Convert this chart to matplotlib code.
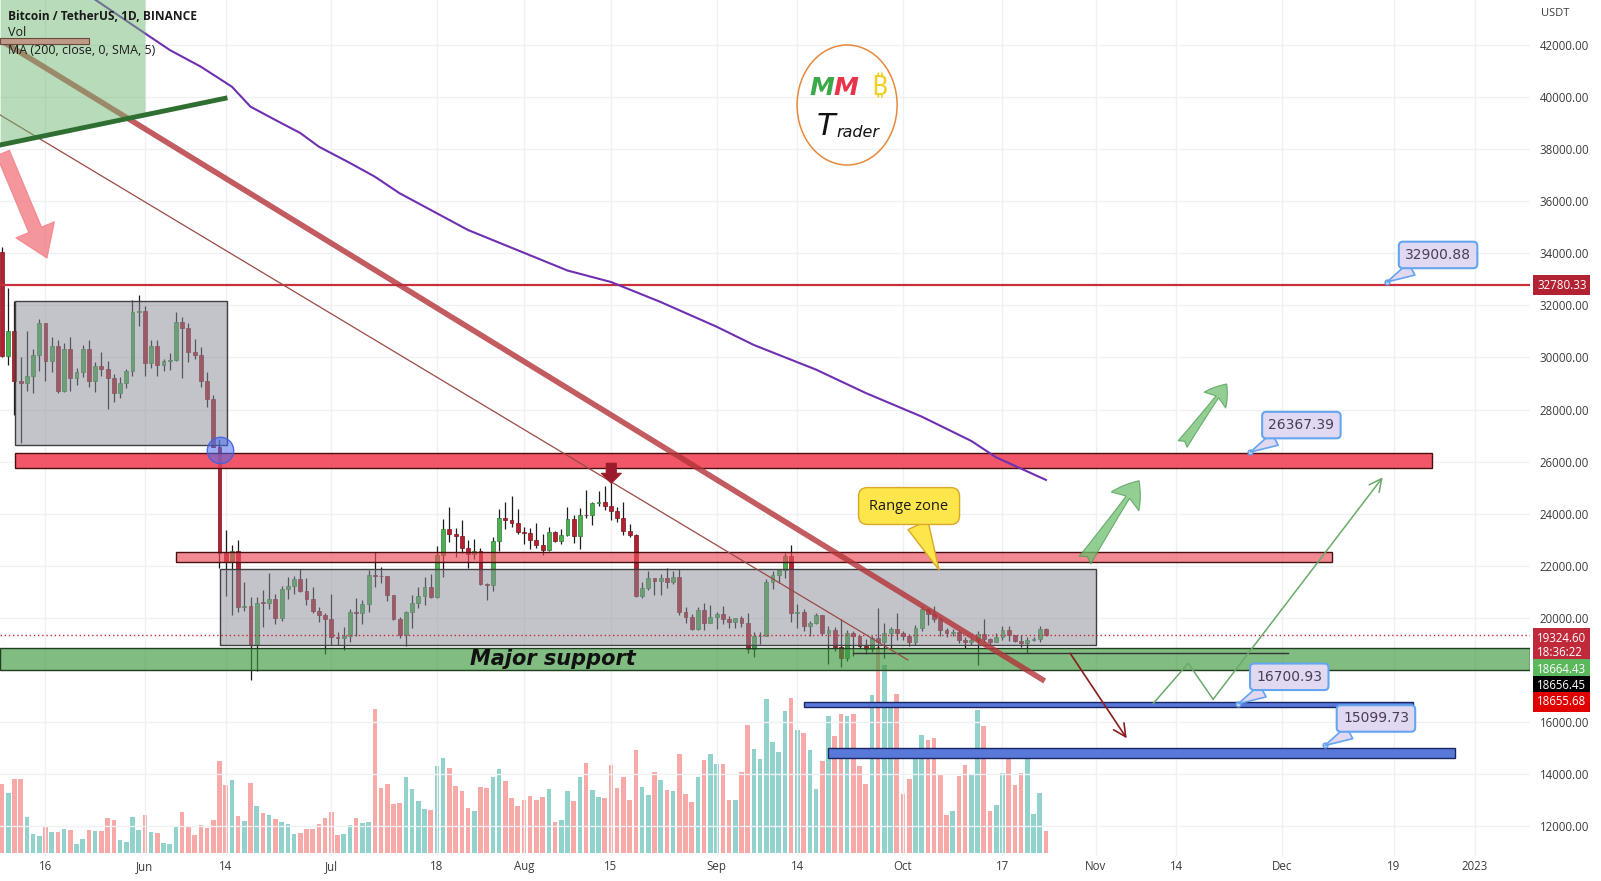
import numpy as np
import matplotlib
matplotlib.use('Agg')
import matplotlib.pyplot as plt
from matplotlib.patches import Rectangle, Ellipse

plt.rcParams['font.family'] = ['Open Sans', 'DejaVu Sans']

# BTC/USDT daily candles, day 0 = 9 May 2022 ... day 168 = 24 Oct 2022
opens = [34060, 30074, 31017, 29103, 29031, 29283, 30101, 31306, 29863, 30425,
         28716, 30320, 29199, 29432, 30324, 29098, 29655, 29543, 29202, 28630,
         29031, 29469, 31734, 31801, 29805, 30452, 29700, 29864, 29919, 31373,
         31125, 30205, 30110, 29092, 28424, 26575, 22487, 22136, 22583, 20401,
         20468, 18971, 20574, 20573, 20723, 19987, 21110, 21237, 21492, 21038,
         20742, 20281, 20123, 19942, 19280, 19243, 19297, 20231, 20190, 20548,
         21637, 21595, 21592, 20860, 19970, 19329, 20212, 20570, 20830, 21195,
         20798, 22432, 23396, 23223, 23152, 22684, 22451, 22579, 21310, 21254,
         22952, 23842, 23774, 23643, 23293, 23268, 22988, 22818, 22622, 23312,
         22954, 23175, 23810, 23149, 23954, 23934, 24403, 24441, 24305, 24094,
         23854, 23342, 23191, 20834, 21140, 21516, 21400, 21529, 21368, 21559,
         20241, 20037, 19555, 20285, 19811, 20050, 20131, 19952, 19832, 19986,
         19813, 18791, 19289, 19320, 21361, 21648, 21826, 22395, 20174, 20226,
         19701, 19803, 20113, 19416, 19537, 18875, 18461, 19401, 19289, 18920,
         18807, 19227, 19079, 19413, 19591, 19423, 19310, 19057, 19630, 20337,
         20158, 19960, 19530, 19417, 19446, 19141, 19060, 19155, 19375, 19176,
         19069, 19262, 19549, 19328, 19124, 19041, 19164, 19204, 19570]
highs = [34245, 32658, 32162, 30033, 30998, 30343, 31460, 31308, 30788, 30666,
         30545, 30777, 29600, 30487, 30670, 29830, 30223, 29850, 29380, 29253,
         29550, 32222, 32399, 31982, 30689, 30675, 29950, 30189, 31765, 31556,
         31330, 30700, 30384, 29440, 28544, 26880, 23362, 22800, 22976, 21365,
         20792, 20815, 21090, 21723, 20900, 21233, 21558, 21614, 21868, 21539,
         21200, 20432, 20179, 20918, 19444, 19650, 20354, 20758, 20675, 21838,
         22527, 21950, 21600, 20868, 20047, 20250, 20884, 21200, 21588, 21685,
         22777, 23800, 24276, 23442, 23756, 23000, 23014, 22666, 21347, 23112,
         24199, 24442, 24668, 24194, 23509, 23459, 23647, 23223, 23472, 23354,
         23402, 24245, 23933, 24226, 24918, 24456, 24888, 25047, 25212, 24247,
         24446, 23600, 23208, 21382, 21800, 21521, 21684, 21900, 21819, 21886,
         20409, 20155, 20433, 20575, 20490, 20209, 20445, 20054, 20000, 20058,
         20180, 19464, 19449, 21500, 21810, 21860, 22488, 22799, 20541, 20330,
         19890, 20189, 20113, 19686, 19634, 19956, 19550, 19500, 19316, 19180,
         19315, 20385, 19790, 19645, 20185, 19484, 19395, 19719, 20475, 20365,
         20456, 20050, 19627, 19559, 19525, 19267, 19224, 19513, 19951, 19227,
         19420, 19676, 19706, 19350, 19347, 19250, 19257, 19695, 19601]
lows = [30033, 29730, 27785, 26700, 28705, 28630, 29480, 29087, 29440, 28654,
        28693, 28730, 28947, 29242, 28866, 28669, 29294, 28019, 28282, 28450,
        28830, 29299, 31200, 29300, 29594, 29282, 29485, 29530, 29880, 29219,
        29843, 29944, 28850, 28100, 26560, 21925, 20846, 20111, 20232, 20246,
        17622, 17960, 19637, 20348, 19770, 19890, 20740, 20906, 21000, 20500,
        20200, 19848, 18626, 18975, 18953, 18781, 19055, 19305, 19761, 20238,
        21189, 21347, 20655, 19900, 19239, 18910, 19616, 20383, 20478, 20761,
        20762, 21581, 22906, 22341, 22500, 21934, 22257, 21250, 20706, 21042,
        22582, 23414, 23502, 23227, 22850, 22655, 22681, 22400, 22586, 22909,
        22844, 23154, 22865, 22664, 23852, 23583, 24296, 24145, 23773, 23671,
        23180, 23111, 20783, 20761, 21069, 20890, 20890, 21145, 21310, 20107,
        19800, 19520, 19550, 19540, 19797, 19565, 19754, 19600, 19600, 19636,
        18650, 18510, 19010, 19297, 21111, 21350, 21538, 19860, 19617, 19497,
        19320, 19748, 19335, 18232, 18711, 18125, 18356, 18531, 18805, 18629,
        18680, 18816, 18471, 18843, 19155, 19160, 18920, 18960, 19490, 19730,
        19853, 19320, 19250, 19316, 19020, 18860, 18965, 18190, 19070, 18975,
        19063, 19160, 19096, 19070, 18900, 18650, 19112, 19070, 19300]
closes = [30074, 31017, 29103, 29031, 29283, 30101, 31306, 29863, 30425, 28716,
          30320, 29199, 29432, 30324, 29098, 29655, 29543, 29202, 28630, 29031,
          29469, 31734, 31801, 29805, 30452, 29700, 29864, 29919, 31373, 31125,
          30205, 30110, 29092, 28424, 26575, 22487, 22136, 22583, 20401, 20468,
          18971, 20574, 20573, 20723, 19987, 21110, 21237, 21492, 21038, 20742,
          20281, 20123, 19942, 19280, 19243, 19297, 20231, 20190, 20548, 21637,
          21595, 21592, 20860, 19970, 19329, 20212, 20570, 20830, 21195, 20798,
          22432, 23396, 23223, 23152, 22684, 22451, 22579, 21310, 21254, 22952,
          23842, 23774, 23643, 23293, 23268, 22988, 22818, 22622, 23312, 22954,
          23175, 23810, 23149, 23954, 23934, 24403, 24441, 24305, 24094, 23854,
          23342, 23191, 20834, 21140, 21516, 21400, 21529, 21368, 21559, 20241,
          20037, 19555, 20285, 19811, 20050, 20131, 19952, 19832, 19986, 19813,
          18791, 19289, 19320, 21361, 21648, 21826, 22395, 20174, 20226, 19701,
          19803, 20113, 19416, 19537, 18875, 18461, 19401, 19289, 18920, 18807,
          19227, 19079, 19413, 19591, 19423, 19310, 19057, 19630, 20337, 20158,
          19960, 19530, 19417, 19446, 19141, 19060, 19155, 19375, 19176, 19069,
          19262, 19549, 19328, 19124, 19041, 19164, 19204, 19570, 19324.6]
# volume (thousand BTC, read as bar heights)
volume = [69, 60, 74, 74, 36, 19, 17, 27, 21, 21, 24, 23, 9, 14, 23, 22, 22, 35, 33, 13,
          11, 36, 23, 38, 21, 20, 10, 9, 26, 41, 26, 18, 28, 25, 33, 92, 68, 73, 37, 32,
          70, 47, 40, 38, 34, 31, 29, 19, 20, 24, 24, 29, 35, 41, 18, 19, 28, 35, 30, 31,
          144, 65, 69, 49, 50, 76, 64, 52, 44, 43, 87, 95, 85, 67, 62, 45, 42, 66, 65, 76,
          84, 72, 55, 47, 53, 57, 53, 56, 64, 31, 33, 62, 52, 76, 90, 63, 56, 55, 88, 65,
          76, 53, 103, 66, 58, 81, 73, 63, 62, 99, 59, 51, 76, 93, 99, 89, 89, 53, 53, 81,
          128, 104, 94, 154, 111, 101, 142, 155, 123, 120, 103, 64, 92, 137, 117, 139, 137, 139, 87,
          69, 158, 206, 188, 146, 159, 59, 74, 105, 118, 113, 115, 79, 38, 42, 77, 88, 78, 143,
          127, 42, 48, 80, 94, 68, 80, 96, 39, 60, 22]

# MA (200) line
ma_days = [15, 23, 27, 32, 37, 40, 44, 48, 51, 56, 60, 64, 75, 91, 98, 106, 115, 121, 131,
           139, 148, 156, 160, 168]
ma_prices = [43740, 42449, 41808, 41167, 40398, 39630, 39120, 38620, 38094, 37469, 36943,
             36305, 34895, 33340, 32899, 32130, 31182, 30479, 29535, 28636, 27730, 26793,
             26163, 25299]

tick_days = [7, 23, 36, 53, 70, 84, 98, 115, 128, 145, 161, 176, 189, 206, 224, 237]
tick_labels = ['16', 'Jun', '14', 'Jul', '18', 'Aug', '15', 'Sep', '14', 'Oct', '17',
               'Nov', '14', 'Dec', '19', '2023']
price_ticks = [12000, 14000, 16000, 18000, 20000, 22000, 24000, 26000, 28000, 30000,
               32000, 34000, 36000, 38000, 40000, 42000]

# drawings (day, price)
gray_box_days = [(2.1, 36.2), (35.1, 176.0)]
gray_box_prices = [(26639, 32181), (18959, 21866)]
red_zone_days = [(2.1, 230.1), (28.0, 214.0)]
red_zone_prices = [(25744, 26320), (22157, 22518)]
green_zone_prices = (17998, 18832)
blue_zone_days = [(129.0, 227.0), (133.0, 233.9)]
blue_zone_prices = [(16589, 16781), (14631, 14992)]
thick_days, thick_prices = [-0.3, 167.8], [42192, 17576]
thin_days, thin_prices = [-0.3, 145.8], [39312, 18382]
gline_days, gline_prices = [-0.3, 35.9], [38160, 39953]
hline_days, hline_price = [137.0, 207.0], 18656.45
resistance = 32780.33
last_price = 19324.60
note_prices = [32900.88, 26367.39, 16700.93, 15099.73]
note_days = [222.9, 200.9, 198.95, 212.9]
zig_days = [185.3, 190.9, 194.9, 222.2]
zig_prices = [16720, 18256, 16873, 25399]

W, H = 1601, 881
fig = plt.figure(figsize=(W / 100, H / 100), dpi=100)
rect = [0, 25 / H, 1530 / W, 856 / H]
axv = fig.add_axes(rect)
ax = fig.add_axes(rect)
ax.patch.set_alpha(0)
for a in (axv, ax):
    a.set_xlim(-0.32, 245.9)
axv.set_ylim(-3, 853)
ax.set_ylim(10856, 43728)
axv.axis('off')

o, h, l, c = map(np.array, (opens, highs, lows, closes))
days = np.arange(len(o))
up = c >= o

# volume
axv.bar(days, volume, width=0.74, color=np.where(up, '#92d2cc', '#f7a9a7'), lw=0)

# axes look
ax.set_xticks(tick_days)
ax.set_xticklabels(tick_labels)
ax.set_yticks(price_ticks)
ax.set_yticklabels([f'{p:.2f}' for p in price_ticks])
ax.yaxis.tick_right()
ax.tick_params(length=0, labelsize=8.3, colors='#3c3c3c')
ax.tick_params(axis='y', pad=7)
ax.tick_params(axis='x', pad=3)
ax.grid(True, color='#eef0f4', lw=1)
ax.set_axisbelow(True)
for s in ax.spines.values():
    s.set_visible(False)

# candles
ax.vlines(days, l, h, color='#1c1c1c', lw=0.9, zorder=2)
ax.bar(days, np.maximum(np.abs(c - o), 25), bottom=np.minimum(o, c), width=0.62,
       color=np.where(up, '#4caf50', '#b3202f'), edgecolor=np.where(up, '#2f7d3a', '#7a1420'),
       lw=0.5, zorder=3)

# zones
ax.axhspan(*green_zone_prices, fc=(0.24, 0.6, 0.25, 0.65), ec='#1f3f1f', lw=1, zorder=4)
for (d0, d1), (p0, p1) in zip(gray_box_days, gray_box_prices):
    ax.add_patch(Rectangle((d0, p0), d1 - d0, p1 - p0, fc=(0.55, 0.56, 0.6, 0.52),
                           ec='#404040', lw=1, zorder=4))
ax.add_patch(Rectangle((red_zone_days[0][0], red_zone_prices[0][0]),
                       red_zone_days[0][1] - red_zone_days[0][0],
                       red_zone_prices[0][1] - red_zone_prices[0][0],
                       fc=(0.94, 0.25, 0.33, 0.88), ec='#4a1010', lw=1, zorder=4))
ax.add_patch(Rectangle((red_zone_days[1][0], red_zone_prices[1][0]),
                       red_zone_days[1][1] - red_zone_days[1][0],
                       red_zone_prices[1][1] - red_zone_prices[1][0],
                       fc=(0.93, 0.29, 0.35, 0.65), ec='#4a1010', lw=1, zorder=4))
for (d0, d1), (p0, p1) in zip(blue_zone_days, blue_zone_prices):
    ax.add_patch(Rectangle((d0, p0), d1 - d0, p1 - p0, fc='#5878da', ec='#1a2660', lw=1,
                           zorder=4))

ax.text(88.6, 18420, 'Major support', ha='center', va='center', fontsize=15,
        fontweight='bold', style='italic', family='DejaVu Sans', color='#111111', zorder=9)

# lines
ax.axhline(resistance, color='#c8303c', lw=1.6, zorder=5)
ax.axhline(last_price, color='#c62a3a', lw=1, ls=(0, (1, 2)), zorder=5)
ax.plot(hline_days, [hline_price] * 2, color='#333333', lw=1, zorder=5)
ax.plot(thin_days, thin_prices, color='#9a4a46', lw=0.9, zorder=5)
ax.plot(thick_days, thick_prices, color=(0.7, 0.2, 0.22, 0.8), lw=4, solid_capstyle='butt',
        zorder=6)
ax.plot(ma_days, ma_prices, color='#6f2fb0', lw=1.5, zorder=6)

# top-left green shade above the green trend line
shade_days = np.array([-0.3, 23.0])
shade_low = np.interp(shade_days, gline_days, gline_prices)
ax.fill_between(shade_days, shade_low, 45000, color=(0.45, 0.72, 0.46, 0.5), lw=0, zorder=7)
ax.plot(gline_days, gline_prices, color='#2f6f32', lw=3.5, zorder=8)

# arrows
def fat_arrow(tail, tip, style, color, ms, alpha, ec=None):
    ax.annotate('', xy=tip, xytext=tail,
                arrowprops=dict(arrowstyle=style, fc=color, ec=ec or color, alpha=alpha,
                                mutation_scale=ms, shrinkA=0, shrinkB=0, lw=0.8),
                zorder=8)

fat_arrow((0.16, 37853), (7.24, 33820), 'simple,head_length=1.1,head_width=1.5,tail_width=0.5',
          '#f27c84', 20, 0.8)
fat_arrow((174.3, 22223), (183.0, 25268), 'fancy,head_length=0.9,head_width=1.2,tail_width=0.5',
          '#6fbf6f', 20, 0.75, '#4c9a50')
fat_arrow((190.0, 26677), (197.1, 28982), 'fancy,head_length=0.9,head_width=1.2,tail_width=0.5',
          '#6fbf6f', 16, 0.75, '#4c9a50')
fat_arrow((98.05, 25936), (98.05, 25168), 'simple,head_length=0.72,head_width=1.44,tail_width=0.72',
          '#9b1b2a', 10, 1)

ax.plot(zig_days[:3], zig_prices[:3], color='#6aaa6a', lw=1.1, zorder=8)
ax.annotate('', xy=(zig_days[3], zig_prices[3]), xytext=(zig_days[2], zig_prices[2]),
            arrowprops=dict(arrowstyle='->,head_length=0.9,head_width=0.45', color='#6aaa6a',
                            lw=1.1, shrinkA=0, shrinkB=0), zorder=8)
ax.annotate('', xy=(181.0, 15376), xytext=(171.9, 18640),
            arrowprops=dict(arrowstyle='->,head_length=0.9,head_width=0.45', color='#8b1c1c',
                            lw=1.2, shrinkA=0, shrinkB=0), zorder=8)

# blue circle
ax.plot([35.1], [26447], 'o', ms=19, mfc=(0.29, 0.42, 0.94, 0.55), mec=(0.25, 0.38, 0.9, 0.9),
        mew=1, zorder=8)

# price notes
for d, p in zip(note_days, note_prices):
    ax.plot([d], [p], 'o', ms=3.5, mfc='#e1d8f2', mec='#5a9ee8', mew=1, zorder=9)
    ax.annotate(f'{p:.2f}', xy=(d, p), xytext=(51, 27), textcoords='offset pixels',
                ha='center', va='center', fontsize=10, family='DejaVu Sans', color='#4a3c5a',
                bbox=dict(boxstyle='round,pad=0.45,rounding_size=0.3', fc='#e1d8f2',
                          ec='#64a5f0', lw=1.5),
                arrowprops=dict(arrowstyle='wedge,tail_width=1.0', fc='#e1d8f2', ec='#64a5f0',
                                lw=1.2, shrinkA=0, shrinkB=0), zorder=9)

# range zone callout
ax.annotate('Range zone', xy=(150.8, 21838), xytext=(-30, 64), textcoords='offset pixels',
            ha='center', va='center', fontsize=10.5, color='#1a1a1a',
            bbox=dict(boxstyle='round,pad=0.75,rounding_size=0.6', fc='#fde64b', ec='#d9a826',
                      lw=1),
            arrowprops=dict(arrowstyle='wedge,tail_width=1.5', fc='#fde64b', ec='#d9a826',
                            lw=1, shrinkA=0, shrinkB=0), zorder=9)

# logo
ax.add_patch(Ellipse((136.0, 39696), 16.1, 4608, fill=False, ec='#e58a3c', lw=1.1, zorder=9))
ax.text(131.9, 40337, 'M', ha='center', va='center', fontsize=18, fontweight='bold',
        style='italic', family='DejaVu Sans', color='#3daa4a', zorder=9)
ax.text(135.8, 40337, 'M', ha='center', va='center', fontsize=18, fontweight='bold',
        style='italic', family='DejaVu Sans', color='#e8334a', zorder=9)
ax.text(141.2, 40337, '\u20bf', ha='center', va='center', fontsize=20, fontweight='bold',
        family=['Noto Sans', 'DejaVu Sans'], color='#f0d020', zorder=9)
ax.text(132.6, 38863, 'T', ha='center', va='center', fontsize=22, style='italic',
        family='DejaVu Sans', color='#111111', zorder=9)
ax.text(137.7, 38640, 'rader', ha='center', va='center', fontsize=11.5, style='italic',
        family='DejaVu Sans', color='#111111', zorder=9)

# legend top-left
ax.text(8 / 1530, 1 - 16 / 856, 'Bitcoin / TetherUS, 1D, BINANCE', transform=ax.transAxes,
        fontsize=8.6, fontweight='bold', color='#1a1a1a', va='center', zorder=10)
ax.text(8 / 1530, 1 - 33 / 856, 'Vol', transform=ax.transAxes, fontsize=9,
        color='#1a1a1a', va='center', zorder=10)
ax.text(8 / 1530, 1 - 50 / 856, 'MA (200, close, 0, SMA, 5)', transform=ax.transAxes,
        fontsize=9, color='#1a1a1a', va='center', zorder=10)
ax.add_patch(Rectangle((0, 1 - 44.3 / 856), 89 / 1530, 6 / 856, transform=ax.transAxes,
                       fc='#c09a88', ec='#6a4a3a', lw=0.8, zorder=10))

# price badges on the right axis
badge_texts = ['32780.33', '19324.60\n18:36:22', '18664.43', '18656.45', '18655.68']
badge_prices = [32780.33, 19324.60, 18664.43, 18656.45, 18655.68]
badge_colors = ['#b22232', '#c0293a', '#5cb85c', '#000000', '#e00000']
badge_shift = [0, -10, -17, -33, -49]
for t, p, col, dy in zip(badge_texts, badge_prices, badge_colors, badge_shift):
    ax.annotate(t, xy=(1, p), xycoords=('axes fraction', 'data'), xytext=(7, dy),
                textcoords='offset pixels', ha='left', va='center', fontsize=8.3,
                color='white', linespacing=1.1, annotation_clip=False,
                bbox=dict(boxstyle='square,pad=0.33', fc=col, ec='none'))

fig.text(1541 / W, 1 - 14 / H, 'USDT', fontsize=8, va='center', color='#3c3c3c')

fig.savefig('out.png', dpi=100)
